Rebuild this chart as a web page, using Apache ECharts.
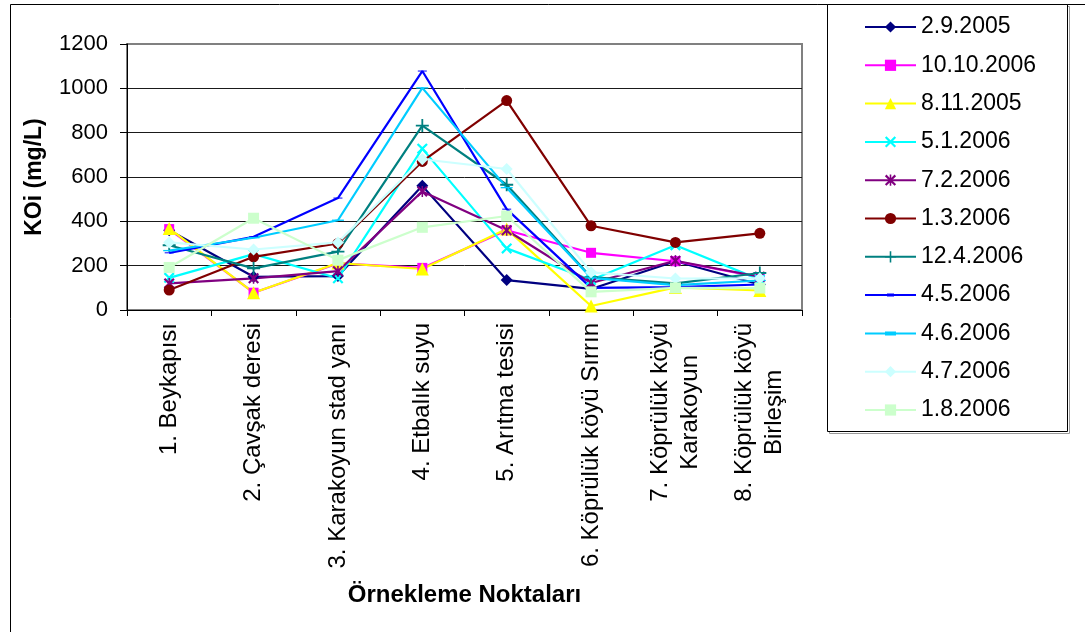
<!DOCTYPE html>
<html>
<head>
<meta charset="utf-8">
<script src="https://cdn.jsdelivr.net/npm/echarts@6/dist/echarts.min.js"></script>
<style>
  html, body { margin: 0; padding: 0; background: #fff; }
  #chart { width: 1085px; height: 632px; }
</style>
</head>
<body>
<div id="chart"></div>
<script>
// Sampling points along the stream
const categories = [
  '1. Beykapısı',
  '2. Çavşak deresi',
  '3. Karakoyun stad yanı',
  '4. Etbalık suyu',
  '5. Arıtma tesisi',
  '6. Köprülük köyü Sırrın',
  '7. Köprülük köyü\nKarakoyun',
  '8. Köprülük köyü\nBirleşim'
];

// KOİ (mg/L) per sampling date
const d_2_9_2005   = [360, 150, 153, 560, 135, 95, 220, 115];
const d_10_10_2006 = [365, 78, 210, 190, 360, 258, 220, 148];
const d_8_11_2005  = [368, 78, 212, 185, 365, 18, 102, 88];
const d_5_1_2006   = [145, 252, 143, 728, 278, 135, 292, 137];
const d_7_2_2006   = [120, 143, 175, 535, 360, 122, 222, 150];
const d_1_3_2006   = [90, 240, 300, 670, 945, 380, 305, 346];
const d_12_4_2006  = [292, 188, 263, 832, 565, 148, 120, 167];
const d_4_5_2006   = [258, 330, 505, 1078, 455, 100, 103, 115];
const d_4_6_2006   = [268, 326, 405, 1002, 552, 145, 112, 133];
const d_4_7_2006   = [305, 273, 305, 680, 636, 170, 142, 143];
const d_1_8_2006   = [192, 414, 225, 373, 424, 82, 100, 99];

const yTicks = { min: 0, max: 1200, interval: 200 };

// Marker shapes
const X_PATH = 'path://M0,1.4 L1.4,0 L5,3.6 L8.6,0 L10,1.4 L6.4,5 L10,8.6 L8.6,10 L5,6.4 L1.4,10 L0,8.6 L3.6,5 Z';
const STAR_PATH = 'path://M0,1.4 L1.4,0 L5,3.6 L8.6,0 L10,1.4 L6.4,5 L10,8.6 L8.6,10 L5,6.4 L1.4,10 L0,8.6 L3.6,5 Z M4.3,0 L5.7,0 L5.7,10 L4.3,10 Z';
const PLUS_PATH = 'path://M4.3,0 L5.7,0 L5.7,4.3 L10,4.3 L10,5.7 L5.7,5.7 L5.7,10 L4.3,10 L4.3,5.7 L0,5.7 L0,4.3 L4.3,4.3 Z';
const DASH_PATH = 'path://M0,0 L3,0 L3,1 L0,1 Z';
// legend icons for the dash markers: line with a short bar in the middle
const DASH_ICON_S = 'path://M0,0 M51,14 M0,6 L51,6 L51,8 L0,8 Z M22,5.5 L29,5.5 L29,8.5 L22,8.5 Z';
const DASH_ICON_L = 'path://M0,0 M51,14 M0,6 L51,6 L51,8 L0,8 Z M20,5 L31,5 L31,9 L20,9 Z';

const FONT = '"Liberation Sans", Arial, sans-serif';

const seriesDefs = [
  { name: '2.9.2005',   data: d_2_9_2005,   color: '#000080', symbol: 'diamond',  size: 12 },
  { name: '10.10.2006', data: d_10_10_2006, color: '#FF00FF', symbol: 'rect',     size: 10 },
  { name: '8.11.2005',  data: d_8_11_2005,  color: '#FFFF00', symbol: 'triangle', size: 13 },
  { name: '5.1.2006',   data: d_5_1_2006,   color: '#00FFFF', symbol: X_PATH,     size: 11 },
  { name: '7.2.2006',   data: d_7_2_2006,   color: '#800080', symbol: STAR_PATH,  size: 11 },
  { name: '1.3.2006',   data: d_1_3_2006,   color: '#800000', symbol: 'circle',   size: 11 },
  { name: '12.4.2006',  data: d_12_4_2006,  color: '#008080', symbol: PLUS_PATH,  size: 13 },
  { name: '4.5.2006',   data: d_4_5_2006,   color: '#0000FF', symbol: DASH_PATH,  size: [9, 3],  icon: DASH_ICON_S },
  { name: '4.6.2006',   data: d_4_6_2006,   color: '#00CCFF', symbol: DASH_PATH,  size: [12, 4], icon: DASH_ICON_L },
  { name: '4.7.2006',   data: d_4_7_2006,   color: '#CCFFFF', symbol: 'diamond',  size: 12 },
  { name: '1.8.2006',   data: d_1_8_2006,   color: '#CCFFCC', symbol: 'rect',     size: 11 }
];

const chart = echarts.init(document.getElementById('chart'), null, { renderer: 'canvas' });

chart.setOption({
  backgroundColor: '#ffffff',
  animation: false,
  textStyle: { fontFamily: FONT },
  graphic: [
    // outer chart frame
    { type: 'rect', shape: { x: 10.5, y: 4.5, width: 1200, height: 800 },
      style: { fill: 'none', stroke: '#000', lineWidth: 1 }, z: -10 },
    // legend box shadow
    { type: 'rect', shape: { x: 829.5, y: 6.5, width: 240, height: 427 },
      style: { fill: 'none', stroke: '#9a9a9a', lineWidth: 1 }, z: -9 },
    // legend box
    { type: 'rect', shape: { x: 827.5, y: 4.5, width: 240, height: 427 },
      style: { fill: '#fff', stroke: '#000', lineWidth: 1 }, z: -8 }
  ],
  grid: {
    left: 127, right: 283, top: 44, bottom: 322,
    show: true, borderColor: '#808080', borderWidth: 2, backgroundColor: '#fff'
  },
  legend: {
    orient: 'vertical',
    left: 864, top: 15,
    padding: 0,
    itemWidth: 51, itemHeight: 14,
    itemGap: 14.3,
    textStyle: { fontSize: 23, color: '#000', fontFamily: FONT, lineHeight: 24 },
    data: seriesDefs.map(s => s.icon ? { name: s.name, icon: s.icon } : { name: s.name })
  },
  xAxis: {
    type: 'category',
    data: categories,
    boundaryGap: true,
    name: 'Örnekleme Noktaları',
    nameLocation: 'middle',
    nameGap: 273,
    nameTextStyle: { fontSize: 24, fontWeight: 'bold', color: '#000', fontFamily: FONT },
    axisLine: { lineStyle: { color: '#000', width: 1 } },
    axisTick: { show: true, length: 6, alignWithLabel: false, lineStyle: { color: '#000' } },
    axisLabel: {
      rotate: 90,
      interval: 0,
      margin: 13,
      color: '#000',
      fontSize: 24,
      fontFamily: FONT,
      lineHeight: 30,
      formatter: v => v.split('\n').map(s => '{c|' + s + '}').join('\n'),
      rich: { c: { align: 'center', fontSize: 24, fontFamily: FONT, color: '#000', lineHeight: 30 } }
    },
    splitLine: { show: false }
  },
  yAxis: {
    type: 'value',
    min: yTicks.min, max: yTicks.max, interval: yTicks.interval,
    name: 'KOi (mg/L)',
    nameLocation: 'middle',
    nameGap: 81,
    nameRotate: 90,
    nameTextStyle: { fontSize: 23, fontWeight: 'bold', color: '#000', fontFamily: FONT },
    axisLine: { show: true, lineStyle: { color: '#000', width: 1 } },
    axisTick: { show: true, length: 7, inside: false, lineStyle: { color: '#000' } },
    axisLabel: { margin: 19, fontSize: 22, color: '#000', fontFamily: FONT, formatter: v => String(v) },
    splitLine: { show: true, showMinLine: false, showMaxLine: false, lineStyle: { color: '#1a1a1a', width: 1 } }
  },
  series: seriesDefs.map(s => ({
    name: s.name,
    type: 'line',
    data: s.data,
    symbol: s.symbol,
    symbolSize: s.size,
    symbolKeepAspect: true,
    showAllSymbol: true,
    lineStyle: { color: s.color, width: 2.2 },
    itemStyle: { color: s.color, borderWidth: 0 },
    emphasis: { disabled: true }
  }))
});
</script>
</body>
</html>
